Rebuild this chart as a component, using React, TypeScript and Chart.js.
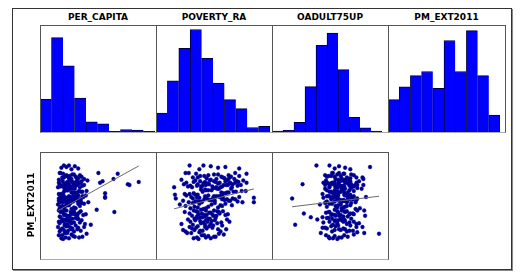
import React, { useEffect, useRef } from "react";
import { Chart, registerables } from "chart.js";
Chart.register(...registerables);

// ---------- DATA ----------
const histTitles = ["PER_CAPITA", "POVERTY_RA", "OADULT75UP", "PM_EXT2011"];
const yLabel = "PM_EXT2011";

const perCapitaHist = [52, 150, 105, 54, 16, 13, 1, 4, 3, 1];
const povertyHist = [17, 46, 75, 92, 66, 44, 29, 21, 4, 5];
const oadultHist = [1, 2, 12, 56, 107, 122, 77, 18, 5, 1];
const pmHist = [23, 32, 40, 43, 31, 65, 43, 72, 40, 12];
const histMax = [170, 96, 132, 76];

// scatter values (scaled 0-10 units of each variable's range)
const pmExt = [
  0.2, 0.1, 0.3, 0.2, 0.4, 0.3, 0.8, 0.9, 0.6, 0.7, 0.5, 0.9, 0.6, 0.4,
  1.1, 1.3, 1.2, 1.5, 1.4, 1.7, 1.8, 1.6, 1.9, 1.2, 1.5, 1.8, 1.1, 1.7, 1.3, 1.9, 1.6, 1.4, 1.0,
  2.0, 2.2, 2.4, 2.1, 2.6, 2.3, 2.8, 2.5, 2.7, 2.9, 2.2, 2.6, 2.4, 2.0, 2.8, 2.3, 2.7, 2.5, 2.9, 2.1, 2.6, 3.0, 2.4, 2.8,
  3.1, 3.3, 3.2, 3.5, 3.7, 3.4, 3.6, 3.8, 3.9, 3.2, 3.5, 3.3, 3.7, 3.9, 3.1, 3.4, 3.8, 3.6, 3.0, 3.5, 3.2, 3.9, 3.3, 3.7, 3.4, 3.8,
  4.0, 4.2, 4.4, 4.6, 4.3, 4.8, 4.5, 4.7, 4.1, 4.9, 4.4, 4.6, 4.2, 4.8, 4.3, 4.9, 4.5, 4.7,
  5.5, 5.6, 5.0, 5.7, 5.1, 5.3, 5.8, 5.2, 5.4, 5.9, 5.0, 5.6, 5.3, 5.7, 5.1, 5.5, 5.8, 5.2, 5.4, 5.9,
  5.0, 5.6, 5.3, 5.7, 5.1, 5.5, 5.8, 5.2, 5.4, 5.9, 5.0, 5.6, 5.3, 5.7, 5.1, 5.5, 5.8, 5.2, 5.4,
  6.2, 6.0, 6.4, 6.6, 6.3, 6.8, 6.5, 6.1, 6.7, 6.9, 6.2, 6.4, 6.0, 6.6, 6.8, 6.3, 6.5, 6.1, 6.7, 6.9, 6.2, 6.4, 6.0, 6.6, 6.8, 6.3,
  7.7, 7.4, 7.3, 7.6, 7.8, 7.0, 7.1, 7.2, 7.5, 7.9, 7.0, 7.3, 7.6, 7.2, 7.4, 7.7, 7.1, 7.5, 7.8, 7.0, 7.3, 7.6,
  7.9, 7.2, 7.4, 7.7, 7.1, 7.5, 7.8, 7.0, 7.3, 7.6, 7.9, 7.2, 7.4, 7.7, 7.1, 7.5, 7.8, 7.0, 7.3, 7.6, 7.9,
  8.8, 8.1, 8.9, 8.0, 8.3, 8.5, 8.2, 8.7, 8.4, 8.6, 8.1, 8.9, 8.3, 8.5, 8.0, 8.7, 8.2, 8.4, 8.8, 8.6, 8.1, 8.3, 8.9, 8.5,
  9.9, 9.9, 9.8, 9.7, 9.5, 9.6, 9.4,
];

const perCapita = [
  0.7, 0.9, 1.2, 1.6, 2.3, 2.8, 3.7, 1.1, 0.4, 1.9, 2.1, 1.4, 0.8, 3.2,
  0.5, 1.0, 1.5, 2.0, 2.6, 0.3, 1.3, 1.8, 2.4, 3.0, 0.8, 1.6, 2.2, 3.4, 0.6, 1.1, 2.7, 1.9, 1.2,
  4.2, 0.5, 1.0, 1.4, 1.7, 2.2, 2.6, 0.7, 1.2, 1.5, 1.9, 3.1, 0.4, 1.1, 2.0, 2.9, 0.9, 1.6, 2.4, 3.5, 1.3, 0.6, 1.8, 2.7,
  0.5, 1.0, 1.4, 1.9, 7.0, 2.3, 2.8, 0.8, 1.3, 1.7, 2.1, 3.3, 0.6, 1.1, 1.6, 2.5, 3.0, 0.9, 1.5, 2.0, 2.6, 0.4, 1.2, 1.8, 3.6, 2.2,
  4.9, 0.5, 1.1, 1.6, 2.2, 2.7, 0.8, 1.3, 1.9, 3.1, 0.6, 1.4, 2.4, 3.4, 1.0, 1.8, 2.9, 0.3,
  0.4, 5.9, 0.9, 5.9, 1.2, 1.7, 2.1, 2.6, 3.0, 0.6, 1.4, 1.9, 2.3, 3.3, 0.8, 1.1, 1.6, 2.0, 2.8, 3.6,
  0.5, 1.3, 1.8, 2.4, 3.0, 0.7, 1.0, 1.5, 2.2, 2.7, 3.9, 0.9, 1.2, 1.7, 2.1, 2.5, 3.2, 0.4, 1.6,
  5.9, 0.5, 1.0, 1.4, 1.9, 2.3, 2.8, 0.7, 1.2, 1.7, 2.1, 3.2, 0.9, 1.5, 2.0, 2.6, 3.7, 0.4, 1.1, 1.6, 2.4, 3.0, 0.8, 1.3, 1.8, 2.2,
  9.9, 8.6, 8.8, 5.3, 5.6, 0.3, 0.6, 1.0, 1.3, 1.7, 2.0, 2.4, 2.8, 3.2, 0.5, 0.9, 1.2, 1.5, 1.9, 2.2, 2.6, 3.0,
  3.8, 0.7, 1.1, 1.4, 1.8, 2.1, 2.5, 2.9, 3.4, 0.4, 0.8, 1.3, 1.6, 2.0, 2.3, 2.7, 3.1, 1.0, 1.5, 2.2, 2.6,
  7.4, 6.9, 5.1, 0.4, 0.8, 1.2, 1.6, 2.0, 2.4, 2.9, 3.4, 0.6, 1.0, 1.4, 1.8, 2.2, 2.7, 3.1, 0.9, 1.3, 1.9, 2.5, 0.5, 1.7,
  1.0, 1.6, 2.3, 1.3, 2.7, 0.7, 1.9,
];

const povertyRa = [
  2.5, 3.1, 4.0, 4.6, 5.2, 2.9, 5.6, 1.7, 3.5, 6.2, 4.3, 2.2, 3.8, 5.0,
  1.5, 2.6, 3.3, 4.1, 5.5, 2.0, 3.0, 4.8, 6.0, 3.6, 2.3, 4.4, 5.8, 3.9, 1.2, 4.9, 2.8, 6.5, 3.2,
  2.4, 3.4, 4.2, 1.0, 5.1, 3.7, 2.6, 4.7, 6.6, 3.0, 5.4, 4.0, 2.1, 3.9, 4.5, 5.9, 1.8, 3.3, 5.2, 4.6, 2.7, 3.6, 6.9, 4.3,
  2.9, 3.8, 4.9, 2.0, 5.6, 3.1, 4.4, 6.1, 2.5, 5.3, 3.5, 4.1, 1.4, 5.0, 3.9, 6.7, 2.8, 4.6, 3.3, 5.7, 2.3, 4.0, 6.4, 3.0, 4.8, 5.4,
  3.4, 2.1, 4.3, 5.8, 3.0, 6.4, 1.5, 4.7, 3.7, 5.1, 2.6, 7.2, 4.0, 3.2, 5.5, 2.4, 6.0, 0.8,
  0.3, 9.9, 9.9, 2.2, 3.1, 4.4, 5.6, 6.8, 7.6, 1.6, 3.5, 4.9, 6.3, 8.1, 2.7, 4.1, 5.3, 7.0, 3.8, 5.9,
  1.9, 3.2, 4.6, 6.1, 7.9, 2.4, 3.9, 5.1, 6.6, 4.3, 8.5, 2.9, 4.8, 5.7, 3.4, 7.3, 5.0, 1.2, 6.0,
  2.5, 0.2, 3.6, 4.7, 5.9, 7.1, 8.4, 2.0, 3.9, 5.2, 6.4, 7.7, 3.0, 4.3, 5.6, 6.8, 8.9, 1.4, 3.4, 4.9, 6.1, 7.4, 2.7, 4.0, 5.4, 6.6,
  8.0, 7.3, 6.5, 9.0, 3.3, 0.1, 1.8, 2.9, 3.7, 4.5, 5.3, 6.2, 7.0, 7.9, 1.3, 2.5, 3.4, 4.2, 5.0, 5.8, 6.7, 7.6,
  8.6, 2.1, 3.0, 3.9, 4.8, 5.5, 6.4, 7.2, 8.3, 1.6, 2.7, 3.6, 4.4, 5.2, 6.0, 6.9, 7.8, 2.3, 4.0, 5.7, 6.6,
  9.0, 6.8, 7.6, 1.0, 2.4, 3.3, 4.1, 5.0, 5.9, 6.8, 7.5, 1.9, 3.0, 3.8, 4.6, 5.5, 6.3, 7.1, 2.8, 4.3, 5.3, 6.1, 1.5, 8.1,
  2.0, 3.7, 4.6, 6.4, 8.1, 5.5, 3.2,
];

const oadult75 = [
  4.3, 5.2, 5.7, 4.7, 6.4, 5.4, 10.0, 8.3, 3.9, 7.1, 4.9, 3.3, 6.0, 4.2,
  4.6, 5.6, 6.6, 4.0, 6.1, 7.4, 5.0, 3.5, 5.3, 7.0, 5.9, 4.5, 6.3, 8.1, 4.9, 6.7, 3.8, 5.4, 7.5,
  0.35, 5.2, 4.3, 6.3, 5.7, 3.6, 6.8, 4.9, 6.0, 4.2, 7.7, 5.3, 7.1, 4.7, 5.6, 6.6, 2.9, 6.1, 4.0, 7.4, 5.0, 2.15, 5.9, 4.6,
  6.4, 4.5, 5.4, 1.35, 6.1, 7.1, 3.9, 5.2, 5.7, 8.4, 6.7, 4.9, 4.2, 7.5, 5.9, 4.6, 6.3, 5.3, 3.5, 7.0, 5.0, 8.3, 5.6, 4.3, 6.6, 6.0,
  4.9, 5.7, 4.0, 6.7, 5.2, 4.6, 6.3, 5.6, 7.3, 3.8, 6.1, 5.3, 7.8, 4.3, 5.9, 6.8, 5.0, 3.2,
  0.0, 4.7, 5.6, 6.4, 4.0, 5.2, 7.1, 6.0, 4.5, 5.3, 6.3, 3.6, 5.9, 6.8, 4.9, 7.5, 4.3, 5.4, 6.6, 6.1,
  3.9, 5.0, 7.4, 4.7, 5.7, 6.7, 4.2, 6.0, 6.4, 5.2, 7.3, 4.6, 5.6, 8.5, 6.3, 5.3, 4.0, 5.9, 7.0,
  5.0, 6.0, 4.3, 6.6, 5.4, 3.8, 7.1, 4.9, 5.9, 7.5, 4.7, 5.6, 6.7, 4.0, 6.1, 6.4, 5.2, 3.5, 5.7, 6.8, 5.3, 4.5, 6.3, 4.9, 8.0, 6.0,
  5.4, 1.2, 8.2, 6.1, 6.7, 4.3, 5.0, 5.9, 6.4, 3.9, 5.3, 7.3, 4.6, 5.6, 6.8, 4.9, 6.0, 4.2, 6.3, 5.2, 7.5, 3.6,
  5.7, 6.6, 4.7, 5.4, 7.1, 4.5, 6.1, 5.0, 6.7, 4.0, 5.9, 7.0, 4.9, 6.4, 4.3, 5.3, 7.7, 5.7, 3.8, 7.4, 5.6,
  6.0, 8.2, 4.6, 5.3, 6.3, 4.2, 5.7, 6.8, 4.9, 3.8, 6.4, 5.4, 7.4, 4.5, 6.1, 5.2, 6.7, 4.0, 5.9, 7.1, 5.0, 8.1, 4.7, 5.6,
  2.8, 4.3, 5.4, 8.97, 4.9, 6.1, 6.7,
];

// fitted regression (PM_EXT2011 on each variable)
const fitIntercept = [3.7, 4.1, 4.4];
const fitSlope = [0.62, 0.27, 0.14];

// ---------- LAYOUT ----------
const ROOT = 8; // body margin
const panelX = [40, 156, 272, 388];
const panelW = [116, 116, 116, 117];
const histTop = 25;
const histH = 107;
const scatTop = 152;
const scatH = 107;
const histPadRight = [1, 2, 6, 5];
const scatXRange = [
  [-1.32, 11.43],
  [-1.59, 11.59],
  [-1.81, 10.53],
];
const scatYRange = [-1.98, 11.11];

const FONT = "'DejaVu Sans', sans-serif";

function Hist({ values, max, padRight, width, height }: any) {
  const ref = useRef<HTMLCanvasElement>(null);
  useEffect(() => {
    const last = values.length - 1;
    const chart = new Chart(ref.current as HTMLCanvasElement, {
      type: "bar",
      data: {
        labels: values.map((_: number, i: number) => String(i + 1)),
        datasets: [
          {
            data: values,
            backgroundColor: "#0000ff",
            borderColor: "#000040",
            borderWidth: (c: any) => ({ left: 1, top: 1, bottom: 0, right: c.dataIndex === last ? 1 : 0 }),
            borderSkipped: false,
            categoryPercentage: 1,
            barPercentage: 1,
          } as any,
        ],
      },
      options: {
        responsive: false,
        animation: false,
        layout: { padding: { left: 0, top: 0, bottom: 0, right: padRight } },
        plugins: { legend: { display: false }, tooltip: { enabled: false }, title: { display: false } },
        scales: {
          x: { display: false },
          y: { display: false, min: 0, max },
        },
      },
    });
    return () => chart.destroy();
  }, []);
  return <canvas ref={ref} width={width} height={height} style={{ display: "block" }} />;
}

function Scatter({ xs, ys, xRange, yRange, b0, b1, width, height }: any) {
  const ref = useRef<HTMLCanvasElement>(null);
  useEffect(() => {
    const n = Math.min(xs.length, ys.length);
    const pts = [];
    for (let i = 0; i < n; i++) pts.push({ x: xs[i], y: ys[i] });
    const lo = Math.min(...xs.slice(0, n));
    const hi = Math.max(...xs.slice(0, n));
    const chart = new Chart(ref.current as HTMLCanvasElement, {
      type: "scatter",
      data: {
        datasets: [
          {
            data: [
              { x: lo, y: b0 + b1 * lo },
              { x: hi, y: b0 + b1 * hi },
            ],
            showLine: true,
            borderColor: "#6a6a6a",
            borderWidth: 1,
            pointRadius: 0,
            order: 0,
          } as any,
          {
            data: pts,
            pointRadius: 1.9,
            pointBackgroundColor: "#00008b",
            pointBorderColor: "#0000a8",
            pointBorderWidth: 0.4,
            order: 1,
          } as any,
        ],
      },
      options: {
        responsive: false,
        animation: false,
        layout: { padding: 0 },
        plugins: { legend: { display: false }, tooltip: { enabled: false } },
        scales: {
          x: { type: "linear", display: false, min: xRange[0], max: xRange[1] },
          y: { type: "linear", display: false, min: yRange[0], max: yRange[1] },
        },
      },
    });
    return () => chart.destroy();
  }, []);
  return <canvas ref={ref} width={width} height={height} style={{ display: "block" }} />;
}

function Panel({ x, y, w, h, children }: any) {
  return (
    <>
      <div style={{ position: "absolute", left: x - ROOT, top: y - ROOT, width: w, height: h }}>{children}</div>
      <div
        style={{
          position: "absolute",
          left: x - ROOT,
          top: y - ROOT,
          width: w + 1,
          height: h + 1,
          boxSizing: "border-box",
          borderTop: "1px solid #555",
          borderLeft: "1px solid #555",
          borderRight: "1px solid #555",
          borderBottom: "1px solid #aaa",
          pointerEvents: "none",
        }}
      />
    </>
  );
}

export default function App() {
  const hists = [perCapitaHist, povertyHist, oadultHist, pmHist];
  const xsets = [perCapita, povertyRa, oadult75];
  return (
    <div style={{ position: "relative", width: 509, height: 270, fontFamily: FONT }}>
      <div
        style={{
          position: "absolute",
          left: 12 - ROOT,
          top: 8 - ROOT,
          width: 500,
          height: 262,
          boxSizing: "border-box",
          border: "1px solid #333",
          boxShadow: "1px 1px 0 #888",
        }}
      />
      {histTitles.map((t, i) => (
        <div
          key={"t" + i}
          style={{
            position: "absolute",
            left: panelX[i] - ROOT,
            top: 11 - ROOT,
            width: panelW[i],
            textAlign: "center",
            fontSize: 9,
            lineHeight: "12px",
            fontWeight: "bold",
            color: "#000",
          }}
        >
          {t}
        </div>
      ))}
      {hists.map((v, i) => (
        <Panel key={"h" + i} x={panelX[i]} y={histTop} w={panelW[i]} h={histH}>
          <Hist values={v} max={histMax[i]} padRight={histPadRight[i]} width={panelW[i]} height={histH} />
        </Panel>
      ))}
      {xsets.map((xs, i) => (
        <Panel key={"s" + i} x={panelX[i]} y={scatTop} w={panelW[i]} h={scatH}>
          <Scatter
            xs={xs}
            ys={pmExt}
            xRange={scatXRange[i]}
            yRange={scatYRange}
            b0={fitIntercept[i]}
            b1={fitSlope[i]}
            width={panelW[i]}
            height={scatH}
          />
        </Panel>
      ))}
      <div
        style={{
          position: "absolute",
          left: 31 - ROOT,
          top: 205 - ROOT,
          transform: "translate(-50%, -50%) rotate(-90deg)",
          fontSize: 9,
          lineHeight: "12px",
          fontWeight: "bold",
          whiteSpace: "nowrap",
          color: "#000",
        }}
      >
        {yLabel}
      </div>
    </div>
  );
}
